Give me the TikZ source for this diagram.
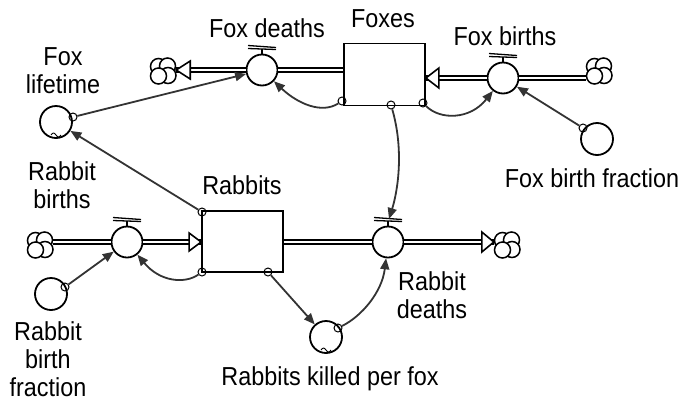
\documentclass[tikz,border=0pt]{standalone}
\usepackage{fontspec}
\setmainfont{Liberation Sans}[FakeStretch=0.9]
\usetikzlibrary{arrows.meta}
\definecolor{linkgray}{HTML}{333333}
\begin{document}
\begin{tikzpicture}[x=1pt,y=-1pt,
  every node/.style={inner sep=0pt},
  lbl/.style={font=\fontsize{26}{28}\selectfont, align=center, anchor=base},
  stock/.style={draw, line width=1.8pt, minimum width=81pt, minimum height=62pt, fill=white},
  valve/.style={circle, draw, line width=1.8pt, minimum size=31pt, fill=white},
  conv/.style={circle, draw, line width=1.8pt, minimum size=32pt, fill=white},
  port/.style={circle, draw, line width=1pt, minimum size=8pt},
  pipe/.style={draw, double, line width=1.4pt, double distance=2.4pt},
  pipehead/.style={draw, line width=1.6pt, fill=white, line join=miter},
  link/.style={draw=linkgray, line width=1.8pt, -{Triangle[length=11pt,width=9pt]}},
  cloudspot/.style={circle, minimum size=26pt},
  handle/.pic={
    \draw[line width=1.3pt] (-14,-24.5) -- (14,-22.5);
    \draw[line width=1.3pt] (-14,-21.5) -- (14,-20.5);
    \draw[line width=1.3pt] (0,-21) -- (0,-15.5);
  },
  wiggle/.pic={
    \draw[line width=0.9pt] (-5,13) sin (-2.5,11) cos (0,13) sin (2.5,15) cos (5,13);
  },
  puffs/.pic={
    \foreach \px/\py in {-4.5/-4.5, 4.5/-5, 5/4.5, -4.5/5}
      \draw[line width=1.5pt, fill=white] (\px,\py) circle[radius=8pt];
  }
]
\useasboundingbox (0,0) rectangle (684,402);

% stocks
\node[stock] (foxes) at (384.5,74.5) {};
\node[stock, minimum height=61pt] (rabbits) at (242.5,241.5) {};

% flow valves
\node[valve] (fdV) at (262,70) {};
\node[valve] (fbV) at (503,78) {};
\node[valve] (rbV) at (127,242) {};
\node[valve] (rdV) at (388,242) {};
\pic at (fdV) {handle};
\pic at (fbV) {handle};
\pic at (rbV) {handle};
\pic at (rdV) {handle};

% converters
\node[conv] (flC) at (56,122) {};
\node[conv] (fbfC) at (597,139) {};
\node[conv] (rbfC) at (51,294) {};
\node[conv] (kpfC) at (326,337) {};
\pic at (flC) {wiggle};
\pic at (kpfC) {wiggle};

% sources and sinks
\node[cloudspot] (fdCloud) at (163,71) {};
\node[cloudspot] (fbCloud) at (599,71) {};
\node[cloudspot] (rbCloud) at (40,245) {};
\node[cloudspot] (rdCloud) at (507,245) {};
\foreach \c in {fdCloud, fbCloud, rbCloud, rdCloud}
  \pic at (\c) {puffs};

% pipes
\draw[pipe] (fdV.east) -- (fdV -| foxes.west);
\draw[pipe] (fdV.west) -- (fdV -| fdCloud.east);
\draw[pipehead] (fdV -| fdCloud.east) -- ++(14,-9) -- ++(0,18) -- cycle;

\draw[pipe] (fbV.east) -- (fbV -| fbCloud.west);
\draw[pipe] (fbV.west) -- (fbV -| foxes.east);
\draw[pipehead] (fbV -| foxes.east) -- ++(13,-10) -- ++(0,20) -- cycle;

\draw[pipe] (rbV -| rbCloud.east) -- (rbV.west);
\draw[pipe] (rbV.east) -- (rbV -| rabbits.west);
\draw[pipehead] (rbV -| rabbits.west) -- ++(-12,-9) -- ++(0,18) -- cycle;

\draw[pipe] (rdV -| rabbits.east) -- (rdV.west);
\draw[pipe] (rdV.east) -- (rdV -| rdCloud.west);
\draw[pipehead] (rdV -| rdCloud.west) -- ++(-12,-10) -- ++(0,20) -- cycle;

% connector ports
\node[port] (fxA) at (342,101) {};
\node[port] (fxB) at (391,105) {};
\node[port] (fxC) at (423,103) {};
\node[port] (rbA) at (202,212) {};
\node[port] (rbB) at (202,272) {};
\node[port] (rbC) at (268,272) {};
\node[port] (flP) at (73,117) {};
\node[port] (fbfP) at (583,128) {};
\node[port] (rbfP) at (65,287) {};
\node[port] (kpfP) at (338,328) {};
\coordinate (rdTop) at (389,219);

% information links
\draw[link] (flP) -- (fdV);
\draw[link] (fxA) .. controls (322,114) and (298,104) .. (fdV);
\draw[link] (fxC) .. controls (440,120) and (470,120) .. (fbV);
\draw[link] (fbfP) -- (fbV);
\draw[link] (fxB) .. controls (404,150) and (398,190) .. (rdTop);
\draw[link] (rbA) -- (flC);
\draw[link] (rbfP) -- (rbV);
\draw[link] (rbB) .. controls (185,284) and (160,282) .. (rbV);
\draw[link] (rbC) -- (kpfC);
\draw[link] (kpfP) .. controls (362,316) and (382,292) .. (rdV);

% labels (anchor sits on the last line's baseline)
\node[lbl] (tFoxes) at (383,27) {Foxes};
\node[lbl] (tFd) at (267,37) {Fox deaths};
\node[lbl] (tFb) at (505,45) {Fox births};
\node[lbl] (tFbf) at (592,187) {Fox birth fraction};
\node[lbl] (tFl) at (63,93) {Fox\\lifetime};
\node[lbl] (tRb) at (62,208) {Rabbit\\births};
\node[lbl] (tRabbits) at (242,194) {Rabbits};
\node[lbl] (tRd) at (432,318) {Rabbit\\deaths};
\node[lbl] (tRbf) at (48,396) {Rabbit\\birth\\fraction};
\node[lbl] (tKpf) at (330,385) {Rabbits killed per fox};
\end{tikzpicture}
\end{document}
